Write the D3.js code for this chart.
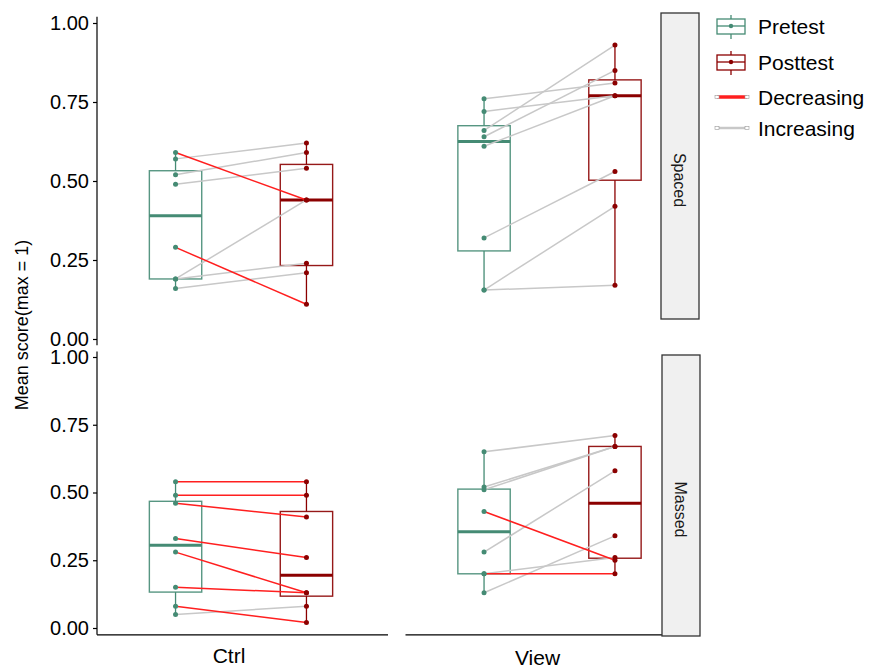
<!DOCTYPE html>
<html>
<head>
<meta charset="utf-8">
<script src="https://cdn.jsdelivr.net/npm/d3@7"></script>
<style>
  body { margin: 0; background: #fff; }
  svg { display: block; font-family: "Liberation Sans", Arial, sans-serif; }
</style>
</head>
<body>
<div id="graph"></div>
<script>
(function(){
	"use strict";

	// paired scores, same student at the same index in pre and post
	var spacedCtrlPre  = [0.59, 0.57, 0.52, 0.49, 0.29, 0.19, 0.19, 0.16];
	var spacedCtrlPost = [0.44, 0.62, 0.59, 0.54, 0.11, 0.44, 0.24, 0.21];
	var spacedViewPre  = [0.76, 0.72, 0.66, 0.64, 0.61, 0.32, 0.155, 0.155];
	var spacedViewPost = [0.81, 0.77, 0.93, 0.85, 0.77, 0.53, 0.42, 0.17];
	var massedCtrlPre  = [0.54, 0.49, 0.46, 0.33, 0.28, 0.15, 0.08, 0.05];
	var massedCtrlPost = [0.54, 0.49, 0.41, 0.26, 0.13, 0.13, 0.02, 0.08];
	var massedViewPre  = [0.65, 0.52, 0.51, 0.43, 0.28, 0.20, 0.20, 0.13];
	var massedViewPost = [0.71, 0.67, 0.67, 0.25, 0.58, 0.26, 0.20, 0.34];

	var tests = ["Pretest", "Posttest"];
	var conditions = ["Ctrl", "View"];
	var spacings = ["Spaced", "Massed"];
	var trends = ["Decreasing", "Increasing"];
	var yTicks = [0, 0.25, 0.5, 0.75, 1];

	var panels = [
		{spacing: "Spaced", cond: "Ctrl", pre: spacedCtrlPre, post: spacedCtrlPost},
		{spacing: "Spaced", cond: "View", pre: spacedViewPre, post: spacedViewPost},
		{spacing: "Massed", cond: "Ctrl", pre: massedCtrlPre, post: massedCtrlPost},
		{spacing: "Massed", cond: "View", pre: massedViewPre, post: massedViewPost}
	];

	var testColor = d3.scaleOrdinal().domain(tests).range(["#458B74", "#8B0000"]);
	var trendColor = d3.scaleOrdinal().domain(trends).range(["#FF1F1F", "#C8C8C8"]);

	var width = 876, height = 668;
	var svg = d3.select("#graph").append("svg")
		.attr("width", width)
		.attr("height", height);

	// one y scale per row, one x scale per column
	var yRow = {
		Spaced: d3.scaleLinear().domain([0, 1]).range([339, 23]),
		Massed: d3.scaleLinear().domain([0, 1]).range([628, 357])
	};
	var rowLimits = {Spaced: [-0.02, 1.02], Massed: [-0.025, 1.02]};
	var xCol = {
		Ctrl: d3.scalePoint().domain(tests).range([97, 385]).padding(0.6),
		View: d3.scalePoint().domain(tests).range([405.5, 693.5]).padding(0.6)
	};
	var colEnd = {Ctrl: 388, View: 662};

	function boxStats(v) {
		var s = v.slice().sort(d3.ascending);
		var q1 = d3.quantile(s, 0.25), med = d3.quantile(s, 0.5), q3 = d3.quantile(s, 0.75);
		var iqr = q3 - q1;
		var lo = d3.min(s.filter(function(d) { return d >= q1 - 1.5 * iqr; }));
		var hi = d3.max(s.filter(function(d) { return d <= q3 + 1.5 * iqr; }));
		return {q1: q1, med: med, q3: q3, lo: lo, hi: hi};
	}

	panels.forEach(function(p) {
		var x = xCol[p.cond], y = yRow[p.spacing];
		var boxW = x.step() * 0.4;
		var g = svg.append("g").attr("class", "panel");

		// boxes
		tests.forEach(function(t) {
			var vals = t === "Pretest" ? p.pre : p.post;
			var st = boxStats(vals);
			var col = testColor(t);
			var cx = x(t);
			g.append("line")
				.attr("x1", cx).attr("x2", cx)
				.attr("y1", y(st.hi)).attr("y2", y(st.q3))
				.attr("stroke", col).attr("stroke-width", 1.3);
			g.append("line")
				.attr("x1", cx).attr("x2", cx)
				.attr("y1", y(st.q1)).attr("y2", y(st.lo))
				.attr("stroke", col).attr("stroke-width", 1.3);
			g.append("rect")
				.attr("x", cx - boxW / 2)
				.attr("y", y(st.q3))
				.attr("width", boxW)
				.attr("height", y(st.q1) - y(st.q3))
				.attr("fill", "none")
				.attr("stroke", col)
				.attr("stroke-opacity", 0.9)
				.attr("stroke-width", 1.4);
			g.append("line")
				.attr("x1", cx - boxW / 2).attr("x2", cx + boxW / 2)
				.attr("y1", y(st.med)).attr("y2", y(st.med))
				.attr("stroke", col).attr("stroke-width", 3);
		});

		// pre -> post connecting lines
		var pairs = p.pre.map(function(d, i) {
			return {pre: d, post: p.post[i], trend: p.post[i] > d ? "Increasing" : "Decreasing"};
		});
		// grey first so the red ones sit on top
		pairs.sort(function(a, b) { return a.trend === "Increasing" ? -1 : (b.trend === "Increasing" ? 1 : 0); });
		g.selectAll(".pair")
			.data(pairs)
			.enter().append("line")
			.attr("class", "pair")
			.attr("x1", x("Pretest")).attr("x2", x("Posttest"))
			.attr("y1", function(d) { return y(d.pre); })
			.attr("y2", function(d) { return y(d.post); })
			.attr("stroke", function(d) { return trendColor(d.trend); })
			.attr("stroke-width", 1.5);

		// points
		tests.forEach(function(t) {
			var vals = t === "Pretest" ? p.pre : p.post;
			g.selectAll(".pt-" + t)
				.data(vals)
				.enter().append("circle")
				.attr("cx", x(t))
				.attr("cy", function(d) { return y(d); })
				.attr("r", 2.5)
				.attr("fill", testColor(t));
		});
	});

	// y axes on the left column only
	spacings.forEach(function(s) {
		var y = yRow[s];
		var ax = svg.append("g")
			.attr("transform", "translate(97,0)")
			.call(d3.axisLeft(y).tickValues(yTicks).tickFormat(d3.format(".2f")).tickSize(4).tickSizeOuter(0));
		ax.select(".domain").remove();
		ax.append("line")
			.attr("x1", 0).attr("x2", 0)
			.attr("y1", y(rowLimits[s][1])).attr("y2", y(rowLimits[s][0]))
			.attr("stroke", "#000").attr("stroke-width", 1.2);
		ax.selectAll(".tick line").attr("stroke", "#000").attr("stroke-width", 1.2);
		ax.selectAll(".tick text")
			.attr("x", -8)
			.attr("fill", "#000")
			.style("font-size", "20px")
			.style("font-family", "Liberation Sans, Arial, sans-serif");
	});

	// x axis line + column labels on bottom row
	var yBottom = yRow.Massed(rowLimits.Massed[0]);
	conditions.forEach(function(c) {
		var x = xCol[c];
		var x0 = x.range()[0];
		svg.append("line")
			.attr("x1", x0).attr("x2", colEnd[c])
			.attr("y1", yBottom).attr("y2", yBottom)
			.attr("stroke", "#000").attr("stroke-width", 1.2);
		svg.append("text")
			.attr("x", (x("Pretest") + x("Posttest")) / 2 - 12)
			.attr("y", c === "Ctrl" ? 663 : 665)
			.attr("text-anchor", "middle")
			.style("font-size", "21px")
			.text(c);
	});

	// y axis title
	svg.append("text")
		.attr("transform", "translate(28,325) rotate(-90)")
		.attr("text-anchor", "middle")
		.style("font-size", "18px")
		.text("Mean score(max = 1)");

	// facet strips on the right
	var strips = [
		{label: "Spaced", x: 661, y0: 13, y1: 319},
		{label: "Massed", x: 662, y0: 355, y1: 636}
	];
	strips.forEach(function(s) {
		svg.append("rect")
			.attr("x", s.x).attr("y", s.y0)
			.attr("width", 38).attr("height", s.y1 - s.y0)
			.attr("fill", "#F0F0F0")
			.attr("stroke", "#333").attr("stroke-width", 1.3);
		svg.append("text")
			.attr("transform", "translate(" + (s.x + 13) + "," + ((s.y0 + s.y1) / 2 + 14) + ") rotate(90)")
			.attr("text-anchor", "middle")
			.attr("fill", "#1A1A1A")
			.style("font-size", "16px")
			.text(s.label);
	});

	// legend
	var legend = svg.append("g").attr("transform", "translate(717,0)");
	var keyY = [26, 62, 97, 128];
	tests.forEach(function(t, i) {
		var k = legend.append("g").attr("transform", "translate(0," + keyY[i] + ")");
		var col = testColor(t);
		k.append("line").attr("x1", 14).attr("x2", 14).attr("y1", -11).attr("y2", 13)
			.attr("stroke", col).attr("stroke-width", 1.3);
		k.append("rect").attr("x", 0).attr("y", -7).attr("width", 28).attr("height", 15)
			.attr("fill", "#fff").attr("stroke", col).attr("stroke-width", 1.3);
		k.append("line").attr("x1", 0).attr("x2", 28).attr("y1", 0).attr("y2", 0)
			.attr("stroke", col).attr("stroke-width", 1.3);
		k.append("circle").attr("cx", 14).attr("cy", 0).attr("r", 2.2).attr("fill", col);
		k.append("text").attr("x", 41).attr("y", 8)
			.style("font-size", "21px").text(t);
	});
	trends.forEach(function(t, i) {
		var k = legend.append("g").attr("transform", "translate(0," + keyY[i + 2] + ")");
		k.append("line").attr("x1", 0).attr("x2", 30).attr("y1", 0).attr("y2", 0)
			.attr("stroke", trendColor(t)).attr("stroke-width", t === "Decreasing" ? 3.5 : 2.5);
		[0, 30].forEach(function(xx) {
			k.append("rect").attr("x", xx - 2).attr("y", -1.5).attr("width", 4).attr("height", 3)
				.attr("fill", "#fff").attr("stroke", "#999").attr("stroke-width", 0.6);
		});
		k.append("text").attr("x", 41).attr("y", 8)
			.style("font-size", "21px").text(t);
	});

})();
</script>
</body>
</html>
